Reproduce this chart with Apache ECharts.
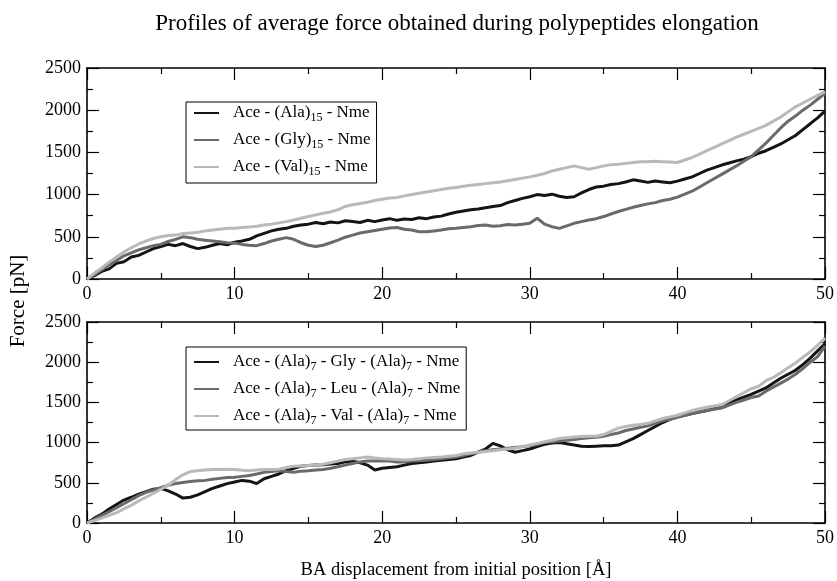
<!DOCTYPE html>
<html>
<head>
<meta charset="utf-8">
<script src="https://cdn.jsdelivr.net/npm/echarts@6/dist/echarts.min.js"></script>
<style>
  html, body { margin: 0; padding: 0; background: #fff; }
  #chart { width: 837px; height: 581px; }
</style>
</head>
<body>
<div id="chart"></div>
<script>
/****** DATA ******/
// displacement [Å], sampled every 0.5
var xs = [0,0.5,1,1.5,2,2.5,3,3.5,4,4.5,5,5.5,6,6.5,7,7.5,8,8.5,9,9.5,
  10,10.5,11,11.5,12,12.5,13,13.5,14,14.5,15,15.5,16,16.5,17,17.5,18,18.5,19,19.5,
  20,20.5,21,21.5,22,22.5,23,23.5,24,24.5,25,25.5,26,26.5,27,27.5,28,28.5,29,29.5,
  30,30.5,31,31.5,32,32.5,33,33.5,34,34.5,35,35.5,36,36.5,37,37.5,38,38.5,39,39.5,
  40,40.5,41,41.5,42,42.5,43,43.5,44,44.5,45,45.5,46,46.5,47,47.5,48,48.5,49,49.5,50];

// top panel: force [pN]
var ala15 = [0,40,90,120,185,205,260,280,320,360,385,410,395,420,385,360,375,400,420,405,
  435,450,470,510,540,570,590,600,625,640,650,670,655,675,665,690,680,670,695,680,
  700,715,695,710,705,725,715,735,745,770,790,805,820,830,845,860,870,905,930,955,
  975,1000,990,1005,980,965,975,1020,1060,1090,1100,1120,1130,1150,1175,1160,1145,1160,1150,1140,
  1160,1185,1210,1250,1290,1320,1350,1375,1400,1420,1450,1490,1520,1560,1600,1650,1700,1770,1840,1910,1990];
var gly15 = [0,50,110,170,220,275,310,345,370,395,410,445,470,500,490,470,460,450,440,430,
  425,410,400,395,420,450,470,490,470,430,400,385,400,430,460,495,520,545,560,575,
  590,605,610,590,580,560,560,570,580,595,600,610,620,635,640,625,630,645,640,650,
  660,720,650,620,600,630,660,680,700,715,740,770,800,825,850,870,890,905,930,945,
  970,1005,1040,1090,1140,1190,1240,1290,1340,1395,1450,1530,1610,1700,1790,1870,1930,2000,2060,2130,2200];
var val15 = [0,70,130,200,260,320,370,415,450,480,500,515,520,540,545,555,570,580,590,600,
  600,610,615,625,640,650,665,680,700,720,740,760,780,795,820,860,880,895,910,930,
  945,960,965,985,1000,1015,1030,1045,1060,1075,1085,1100,1110,1120,1130,1140,1150,1165,1180,1195,
  1210,1230,1250,1280,1300,1320,1340,1320,1300,1320,1340,1355,1360,1370,1380,1390,1390,1395,1390,1385,
  1380,1410,1440,1480,1520,1560,1600,1640,1680,1715,1750,1785,1820,1870,1920,1980,2040,2085,2130,2175,2220];

// bottom panel: force [pN]
var glyMid = [0,60,110,175,230,285,320,360,390,420,430,400,360,310,320,350,390,430,460,490,
  510,530,520,490,550,580,610,650,680,705,715,720,725,735,740,760,770,750,720,660,
  680,690,700,720,740,750,760,770,780,790,800,820,840,880,920,990,960,910,880,900,
  920,950,980,995,1000,985,970,955,950,955,960,960,970,1010,1050,1100,1150,1200,1250,1290,
  1320,1340,1360,1380,1400,1425,1450,1490,1530,1565,1600,1640,1680,1740,1800,1850,1900,1970,2050,2140,2230];
var leuMid = [0,45,95,140,190,240,290,340,380,410,440,470,490,505,515,525,530,545,555,565,
  570,580,590,610,630,640,650,640,630,645,650,660,665,680,700,720,740,760,770,770,
  775,770,760,760,770,775,780,790,800,810,820,840,860,880,900,910,920,930,940,950,
  960,980,1000,1010,1020,1030,1040,1050,1060,1065,1080,1100,1120,1150,1170,1190,1210,1240,1270,1290,
  1315,1340,1360,1385,1400,1415,1430,1465,1500,1530,1560,1580,1640,1690,1740,1790,1850,1920,2000,2070,2200];
var valMid = [0,30,60,95,130,175,220,275,320,370,420,470,540,600,640,650,660,665,665,670,
  665,655,650,660,665,665,670,690,705,710,715,720,730,750,770,790,800,810,820,810,
  800,795,790,785,790,800,810,815,820,830,840,860,870,880,890,900,910,920,930,950,
  970,990,1010,1030,1050,1060,1070,1075,1080,1080,1100,1140,1180,1200,1215,1225,1240,1270,1300,1320,
  1340,1370,1400,1420,1440,1455,1470,1520,1570,1620,1670,1700,1770,1810,1870,1930,1990,2060,2130,2210,2300];

var topNames = ['Ace - (Ala)15 - Nme', 'Ace - (Gly)15 - Nme', 'Ace - (Val)15 - Nme'];
var bottomNames = ['Ace - (Ala)7 - Gly - (Ala)7 - Nme', 'Ace - (Ala)7 - Leu - (Ala)7 - Nme', 'Ace - (Ala)7 - Val - (Ala)7 - Nme'];
var colors = ['#141414', '#6a6a6a', '#b9b9b9'];

/****** CHART ******/
var FONT = 'Liberation Serif';
var myChart = echarts.init(document.getElementById('chart'));

function pairs(ys) {
    return ys.map(function (y, i) { return [xs[i], y]; });
}

function xAxisFor(gridIndex, pos, showLabel, name) {
    return {
        type: 'value', gridIndex: gridIndex, position: pos,
        min: 0, max: 50, interval: 10,
        name: name || '', nameLocation: 'middle', nameGap: 38,
        nameTextStyle: { fontFamily: FONT, fontSize: 18.5, color: '#000' },
        axisLine: { show: true, onZero: false, lineStyle: { color: '#000', width: 1.6 } },
        axisTick: { inside: true, length: 12, lineStyle: { color: '#000', width: 1.2 } },
        minorTick: { show: true, splitNumber: 2, length: 6, lineStyle: { color: '#000', width: 1.2 } },
        splitLine: { show: false },
        axisLabel: { show: showLabel, color: '#000', fontFamily: FONT, fontSize: 18, margin: 6 }
    };
}

function yAxisFor(gridIndex, pos, showLabel) {
    return {
        type: 'value', gridIndex: gridIndex, position: pos,
        min: 0, max: 2500, interval: 500,
        axisLine: { show: true, onZero: false, lineStyle: { color: '#000', width: 1.6 } },
        axisTick: { inside: true, length: 12, lineStyle: { color: '#000', width: 1.2 } },
        minorTick: { show: true, splitNumber: 2, length: 6, lineStyle: { color: '#000', width: 1.2 } },
        splitLine: { show: false },
        axisLabel: { show: showLabel, color: '#000', fontFamily: FONT, fontSize: 18, margin: 6,
            formatter: function (v) { return String(v); } }
    };
}

function lineSeries(name, ys, idx, axis) {
    return {
        name: name, type: 'line', xAxisIndex: axis, yAxisIndex: axis,
        data: pairs(ys), showSymbol: false, symbol: 'none',
        color: colors[idx],
        lineStyle: { width: 3, color: colors[idx] },
        animation: false
    };
}

function legendFor(names, top, padding) {
    return {
        data: names, orient: 'vertical', left: 186, top: top,
        padding: padding, itemGap: 5, itemWidth: 25, itemHeight: 2, icon: 'rect',
        borderColor: '#000', borderWidth: 1, backgroundColor: '#fff',
        formatter: function (n) { return n.replace(/\)(\d+)/g, '){s|$1}'); },
        textStyle: {
            fontFamily: FONT, fontSize: 17, color: '#000', lineHeight: 22, padding: [0, 0, 0, 9],
            rich: { s: { fontFamily: FONT, fontSize: 12, color: '#000', lineHeight: 12, verticalAlign: 'bottom' } }
        },
        selectedMode: false
    };
}

option = {
    backgroundColor: '#fff',
    animation: false,
    grid: [
        { left: 87, right: 9, top: 68, height: 211 },
        { left: 87, right: 9, top: 322, height: 211 }
    ],
    xAxis: [
        xAxisFor(0, 'bottom', true),
        xAxisFor(1, 'bottom', true, 'BA displacement from initial position [Å]'),
        xAxisFor(0, 'top', false),
        xAxisFor(1, 'top', false)
    ],
    yAxis: [
        yAxisFor(0, 'left', true),
        yAxisFor(1, 'left', true),
        yAxisFor(0, 'right', false),
        yAxisFor(1, 'right', false)
    ],
    legend: [
        legendFor(topNames, 102, [0, 6, 5, 8]),
        legendFor(bottomNames, 347, [4, 6, 3, 8])
    ],
    graphic: [
        { type: 'text', x: 457, y: 24, style: { text: 'Profiles of average force obtained during polypeptides elongation',
            font: '23px "Liberation Serif"', fill: '#000', align: 'center', verticalAlign: 'middle' } },
        { type: 'text', x: 18, y: 301, rotation: Math.PI / 2, style: { text: 'Force [pN]',
            font: '21px "Liberation Serif"', fill: '#000', align: 'center', verticalAlign: 'middle' } }
    ],
    series: [
        lineSeries(topNames[0], ala15, 0, 0),
        lineSeries(topNames[1], gly15, 1, 0),
        lineSeries(topNames[2], val15, 2, 0),
        lineSeries(bottomNames[0], glyMid, 0, 1),
        lineSeries(bottomNames[1], leuMid, 1, 1),
        lineSeries(bottomNames[2], valMid, 2, 1)
    ]
};

myChart.setOption(option);
</script>
</body>
</html>
